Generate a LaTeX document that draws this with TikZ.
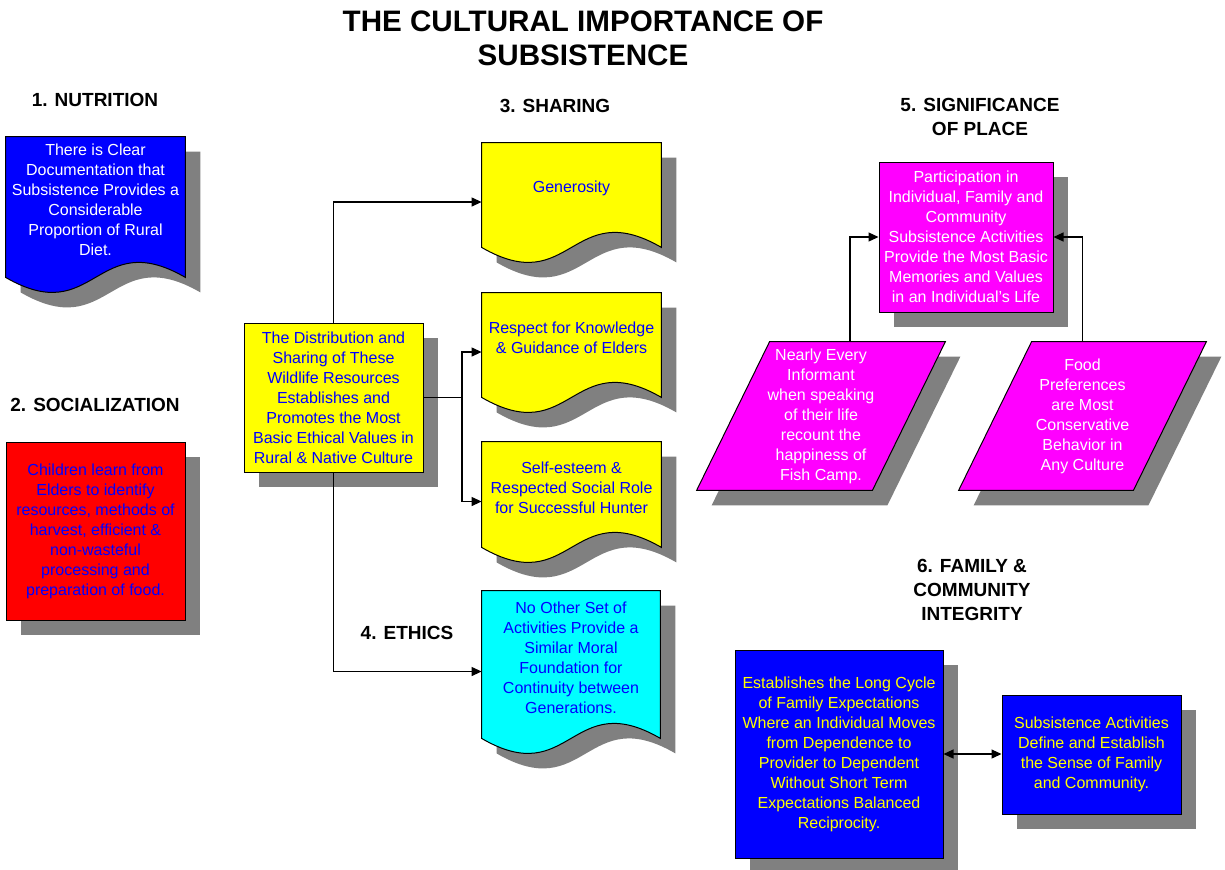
\documentclass[tikz,border=0pt]{standalone}
\usepackage{fontspec}
\setmainfont{Liberation Sans}
\usetikzlibrary{arrows.meta,shadows,calc}
\pgfdeclarelayer{bg}
\pgfsetlayers{bg,main}
\definecolor{shgray}{RGB}{128,128,128}
\definecolor{cblue}{RGB}{0,0,255}
\definecolor{cred}{RGB}{255,0,0}
\definecolor{cyel}{RGB}{255,255,0}
\definecolor{ccyan}{RGB}{0,255,255}
\definecolor{cmag}{RGB}{255,0,255}
\newcommand\docshape[2]{%
\begin{pgfonlayer}{bg}
\fill[shgray] ([shift={(15,15)}]#1.north west) -- ([shift={(15,15)}]#1.north east) -- ([shift={(15,29)}]#1.south east) .. controls ([shift={(15,-23)}]#1.south) and ([shift={(15,81)}]#1.south) .. ([shift={(15,29)}]#1.south west) -- cycle;
\draw[fill=#2, line width=0.5pt] (#1.north west) -- (#1.north east) -- ([shift={(0,14)}]#1.south east) .. controls ([shift={(0,-38)}]#1.south) and ([shift={(0,66)}]#1.south) .. ([shift={(0,14)}]#1.south west) -- cycle;
\end{pgfonlayer}}
\newcommand\parashape[2]{%
\begin{pgfonlayer}{bg}
\fill[shgray] ([shift={(88,15)}]#1.north west) -- ([shift={(15,15)}]#1.north east) -- ([shift={(-58,15)}]#1.south east) -- ([shift={(15,15)}]#1.south west) -- cycle;
\draw[fill=#2, line width=0.5pt] ([shift={(73,0)}]#1.north west) -- (#1.north east) -- ([shift={(-73,0)}]#1.south east) -- (#1.south west) -- cycle;
\end{pgfonlayer}}
\tikzset{
  body/.style={align=center, inner sep=0pt, font=\fontsize{8}{10}\selectfont},
  boxed/.style={body, draw=black, line width=0.5pt,
    drop shadow={shadow xshift=7.5pt, shadow yshift=-7.5pt, fill=shgray, opacity=1}},
  head/.style={align=center, font=\fontsize{9.5}{12}\selectfont\bfseries},
  arr/.style={line width=0.6pt, -{Triangle[length=5pt,width=4.5pt]}},
  arrr/.style={line width=0.6pt, {Triangle[length=5pt,width=4.5pt]}-{Triangle[length=5pt,width=4.5pt]}},
  conn/.style={line width=0.6pt}
}
\begin{document}
\begin{tikzpicture}[x=0.5pt,y=-0.5pt]
\useasboundingbox (0,0) rectangle (1225,869);
% title
\node[align=center, font=\fontsize{14.8}{16.8}\selectfont\bfseries] (title) at (583,38.5) {THE CULTURAL IMPORTANCE OF\\SUBSISTENCE};
% headings
\node[head] (h1) at (95,100) {1. NUTRITION};
\node[head] (h2) at (95,405) {2. SOCIALIZATION};
\node[head] (h3) at (555,106) {3. SHARING};
\node[head] (h4) at (407,633) {4. ETHICS};
\node[head] (h5) at (980,117) {5. SIGNIFICANCE\\OF PLACE};
\node[head] (h6) at (972,590) {6. FAMILY \&\\COMMUNITY\\INTEGRITY};
% 1 nutrition
\node[body, text=white, minimum width=89.5pt, minimum height=63pt] (nut) at (95.5,200) {There is Clear\\Documentation that\\Subsistence Provides a\\Considerable\\Proportion of Rural\\Diet.};
\docshape{nut}{cblue}
% 2 socialization
\node[boxed, fill=cred, text=cblue, minimum width=89.5pt, minimum height=89pt] (soc) at (95.5,531) {Children learn from\\Elders to identify\\resources, methods of\\harvest, efficient \&\\non-wasteful\\processing and\\preparation of food.};
% central
\node[boxed, fill=cyel, text=cblue, minimum width=89.5pt, minimum height=74.5pt] (dist) at (333.5,397.5) {The Distribution and\\Sharing of These\\Wildlife Resources\\Establishes and\\Promotes the Most\\Basic Ethical Values in\\Rural \& Native Culture};
% 3 sharing
\node[body, text=cblue, minimum width=89.5pt, minimum height=45pt] (gen) at (571.5,188) {Generosity};
\docshape{gen}{cyel}
\node[body, text=cblue, minimum width=89.5pt, minimum height=45pt] (resp) at (571.5,338) {Respect for Knowledge\\\& Guidance of Elders};
\docshape{resp}{cyel}
\node[body, text=cblue, minimum width=89.5pt, minimum height=45.5pt] (self) at (571.5,487.5) {Self-esteem \&\\Respected Social Role\\for Successful Hunter};
\docshape{self}{cyel}
% 4 ethics
\node[body, text=cblue, minimum width=89pt, minimum height=66.5pt] (eth) at (571,657.5) {No Other Set of\\Activities Provide a\\Similar Moral\\Foundation for\\Continuity between\\Generations.};
\docshape{eth}{ccyan}
% connectors central
\coordinate (j) at (462,397.5);
\draw[arr] (dist.north) |- ([yshift=-7pt]gen.west);
\draw[conn] (dist.east) -- (j);
\draw[arr] (j) |- ([yshift=-7pt]resp.west);
\draw[arr] (j) |- ([yshift=-7pt]self.west);
\draw[arr] (dist.south) |- ([yshift=-7pt]eth.west);
% 5 significance
\node[boxed, fill=cmag, text=white, minimum width=87pt, minimum height=75pt] (part) at (966,237) {Participation in\\Individual, Family and\\Community\\Subsistence Activities\\Provide the Most Basic\\Memories and Values\\in an Individual's Life};
\node[body, text=white, minimum width=124pt, minimum height=74pt] (pL) at (821,416) {Nearly Every\\Informant\\when speaking\\of their life\\recount the\\happiness of\\Fish Camp.};
\parashape{pL}{cmag}
\node[body, text=white, minimum width=123.5pt, minimum height=74pt] (pR) at (1082.5,416) {Food\\Preferences\\are Most\\Conservative\\Behavior in\\Any Culture};
\parashape{pR}{cmag}
\draw[arr] ([xshift=14.5pt]pL.north) |- (part.west);
\draw[arr] (pR.north) |- (part.east);
% 6 family
\node[boxed, fill=cblue, text=cyel, minimum width=104pt, minimum height=104pt] (fam1) at (839,754) {Establishes the Long Cycle\\of Family Expectations\\Where an Individual Moves\\from Dependence to\\Provider to Dependent\\Without Short Term\\Expectations Balanced\\Reciprocity.};
\node[boxed, fill=cblue, text=cyel, minimum width=89.5pt, minimum height=59.5pt] (fam2) at (1091.5,754.5) {Subsistence Activities\\Define and Establish\\the Sense of Family\\and Community.};
\draw[arrr] (fam1.east) -- (fam1.east -| fam2.west);
\end{tikzpicture}
\end{document}
